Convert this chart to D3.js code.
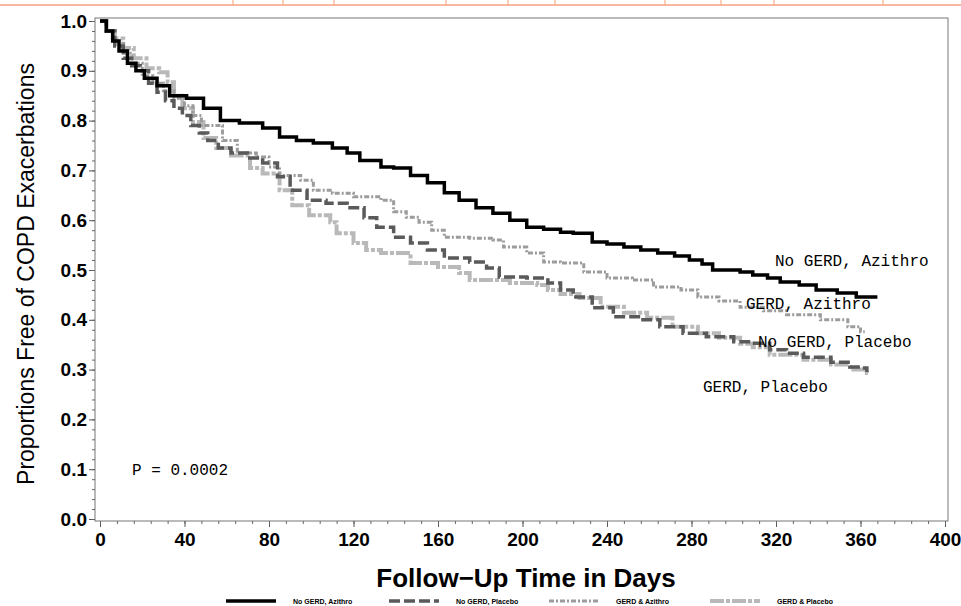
<!DOCTYPE html>
<html>
<head>
<meta charset="utf-8">
<script src="https://cdn.jsdelivr.net/npm/d3@7"></script>
<style>
  body { margin: 0; background: #fff; }
  svg { display: block; }
</style>
</head>
<body>
<div id="chart"></div>
<script>
// Kaplan-Meier curves, values (day, proportion free)
var noGerdAziDays = [0,3,6,9,13,17,21,27,33,41,49,57,66,77,85,93,101,110,117,123,133,139,147,155,163,170,178,186,194,202,210,218,224,233,240,248,256,264,272,279,285,290,303,309,316,322,331,339,349,358,368]
var noGerdAziVals = [1.0,0.98,0.96,0.94,0.915,0.90,0.885,0.87,0.85,0.845,0.825,0.80,0.795,0.785,0.767,0.76,0.755,0.745,0.735,0.72,0.707,0.705,0.69,0.675,0.655,0.64,0.625,0.614,0.60,0.586,0.582,0.576,0.574,0.556,0.552,0.546,0.54,0.534,0.528,0.52,0.512,0.50,0.496,0.49,0.484,0.476,0.47,0.46,0.454,0.446,0.446]

var noGerdPlaDays = [0,3,7,11,15,19,23,27,31,35,39,43,47,51,56,62,70,77,84,90,98,107,117,125,131,139,147,155,163,175,183,189,202,212,218,224,233,243,256,265,276,287,300,309,317,325,333,346,355,361,363]
var noGerdPlaVals = [1.0,0.98,0.95,0.925,0.91,0.90,0.875,0.857,0.84,0.825,0.81,0.79,0.775,0.76,0.745,0.735,0.725,0.715,0.687,0.66,0.64,0.634,0.625,0.605,0.586,0.566,0.554,0.54,0.524,0.516,0.504,0.486,0.484,0.474,0.46,0.446,0.424,0.406,0.40,0.386,0.373,0.366,0.356,0.353,0.34,0.333,0.325,0.315,0.305,0.303,0.295]

var gerdAziDays = [0,3,7,11,15,20,25,30,35,40,44,48,58,65,74,80,85,95,101,110,120,133,139,145,151,157,163,175,186,191,202,210,218,229,240,252,262,275,283,293,303,314,325,341,354,360,362]
var gerdAziVals = [1.0,0.98,0.955,0.935,0.915,0.89,0.875,0.86,0.845,0.83,0.81,0.79,0.76,0.735,0.727,0.707,0.69,0.68,0.66,0.654,0.647,0.64,0.617,0.606,0.596,0.58,0.566,0.564,0.56,0.546,0.534,0.516,0.514,0.496,0.484,0.48,0.466,0.46,0.446,0.438,0.425,0.418,0.41,0.40,0.386,0.376,0.376]

var gerdPlaDays = [0,3,7,11,16,22,28,32,35,39,44,49,55,62,71,77,85,91,99,109,112,120,126,133,147,160,170,175,189,194,207,212,218,227,237,248,259,271,283,293,303,309,317,333,346,355,363,364]
var gerdPlaVals = [1.0,0.98,0.965,0.946,0.925,0.905,0.897,0.877,0.85,0.825,0.797,0.765,0.745,0.73,0.705,0.694,0.66,0.63,0.61,0.596,0.574,0.554,0.54,0.534,0.514,0.506,0.494,0.48,0.48,0.474,0.47,0.46,0.452,0.444,0.426,0.414,0.404,0.386,0.373,0.364,0.352,0.345,0.33,0.32,0.31,0.30,0.293,0.293]

var xTicks = [0,40,80,120,160,200,240,280,320,360,400]
var yTicks = [0.0,0.1,0.2,0.3,0.4,0.5,0.6,0.7,0.8,0.9,1.0]
var legendNames = ["No GERD, Azithro", "No GERD, Placebo", "GERD & Azithro", "GERD & Placebo"]
var curveLabels = ["No GERD, Azithro", "No GERD, Placebo", "GERD, Azithro", "GERD, Placebo"]

var width = 961, height = 606

var svg = d3.select("#chart").append("svg")
  .attr("width", width)
  .attr("height", height)

// scales
var x = d3.scaleLinear().domain([0, 400]).range([100, 945])
var y = d3.scaleLinear().domain([0, 1]).range([519, 21])

// the orange rule cut off at the top of the page
svg.append("line")
  .attr("x1", 0).attr("x2", 961).attr("y1", 5).attr("y2", 5)
  .attr("stroke", "#f4a07a").attr("stroke-width", 1.5)
;[233, 283, 334, 446, 508, 555, 665, 721, 774, 883].forEach(function(px) {
  svg.append("line").attr("x1", px).attr("x2", px).attr("y1", 0).attr("y2", 5)
    .attr("stroke", "#f4a07a").attr("stroke-width", 1)
})

// plot frame
svg.append("rect")
  .attr("x", 95).attr("y", 18).attr("width", 853).attr("height", 503)
  .attr("fill", "none").attr("stroke", "#777").attr("stroke-width", 1)

// y axis
var yAxis = svg.append("g").attr("transform", "translate(95,0)")
  .call(d3.axisLeft(y).tickValues(yTicks).tickFormat(d3.format(".1f")).tickSize(6).tickSizeOuter(0))
yAxis.select(".domain").remove()
yAxis.selectAll(".tick line").attr("stroke", "#555")
yAxis.selectAll("text")
  .attr("x", -8)
  .style("font-family", "'Liberation Sans', Arial, sans-serif")
  .style("font-weight", "bold").style("font-size", "19px").attr("fill", "#000")
svg.append("g").attr("transform", "translate(95,0)")
  .call(d3.axisLeft(y).tickValues(d3.range(0, 1.001, 0.02)).tickFormat("").tickSize(3).tickSizeOuter(0))
  .call(g => g.select(".domain").remove())
  .selectAll("line").attr("stroke", "#666")

// x axis
var xAxis = svg.append("g").attr("transform", "translate(0,521)")
  .call(d3.axisBottom(x).tickValues(xTicks).tickSize(6).tickSizeOuter(0))
xAxis.select(".domain").remove()
xAxis.selectAll(".tick line").attr("stroke", "#555")
xAxis.selectAll("text")
  .attr("y", 12)
  .style("font-family", "'Liberation Sans', Arial, sans-serif")
  .style("font-weight", "bold").style("font-size", "19px").attr("fill", "#000")
svg.append("g").attr("transform", "translate(0,521)")
  .call(d3.axisBottom(x).tickValues(d3.range(0, 401, 8)).tickFormat("").tickSize(3).tickSizeOuter(0))
  .call(g => g.select(".domain").remove())
  .selectAll("line").attr("stroke", "#666")

// axis titles
svg.append("text")
  .attr("transform", "translate(34,274) rotate(-90)")
  .attr("text-anchor", "middle")
  .style("font-family", "'Liberation Sans', Arial, sans-serif")
  .style("font-size", "23px")
  .text("Proportions Free of COPD Exacerbations")

svg.append("text")
  .attr("x", 526).attr("y", 587)
  .attr("text-anchor", "middle")
  .style("font-family", "'Liberation Sans', Arial, sans-serif")
  .style("font-weight", "bold").style("font-size", "26px")
  .text("Follow\u2212Up Time in Days")

// curves
var series = [
  { days: noGerdAziDays, vals: noGerdAziVals, color: "#000000", dash: null,        w: 3.5 },
  { days: noGerdPlaDays, vals: noGerdPlaVals, color: "#5a5a5a", dash: "11,4",      w: 3.5 },
  { days: gerdAziDays,   vals: gerdAziVals,   color: "#9c9c9c", dash: "5,2,2,2",   w: 3 },
  { days: gerdPlaDays,   vals: gerdPlaVals,   color: "#b9b9b9", dash: "14,2,4,2",  w: 4 }
]

var line = d3.line()
  .x(d => x(d[0]))
  .y(d => y(d[1]))
  .curve(d3.curveStepAfter)

// lighter ones underneath the darker ones
;[3, 2, 1, 0].forEach(function(i) {
  var s = series[i]
  svg.append("path")
    .datum(d3.zip(s.days, s.vals))
    .attr("d", line)
    .attr("fill", "none")
    .attr("stroke", s.color)
    .attr("stroke-width", s.w)
    .attr("stroke-dasharray", s.dash)
})

// curve labels
var labelPos = [[775, 266], [758, 347], [746, 309], [703, 392]]
svg.selectAll(".curveLabel")
  .data(curveLabels)
  .enter()
  .append("text")
    .attr("class", "curveLabel")
    .attr("x", (d, i) => labelPos[i][0])
    .attr("y", (d, i) => labelPos[i][1])
    .style("font-family", "'Liberation Mono', 'Courier New', monospace")
    .style("font-size", "16px")
    .text(d => d)

svg.append("text")
  .attr("x", 132).attr("y", 475)
  .style("font-family", "'Liberation Mono', 'Courier New', monospace")
  .style("font-size", "16px")
  .text("P = 0.0002")

// legend
var legX = [226, 389, 549, 710]
var legend = svg.selectAll(".leg")
  .data(legendNames)
  .enter()
  .append("g")
    .attr("class", "leg")
    .attr("transform", (d, i) => "translate(" + legX[i] + ",601)")
legend.append("line")
  .attr("x1", 0).attr("x2", 50).attr("y1", 0).attr("y2", 0)
  .attr("stroke", (d, i) => series[i].color)
  .attr("stroke-width", (d, i) => series[i].w)
  .attr("stroke-dasharray", (d, i) => series[i].dash)
legend.append("text")
  .attr("x", 67).attr("y", 3)
  .style("font-family", "'Liberation Sans', Arial, sans-serif")
  .style("font-weight", "bold").style("font-size", "7px")
  .text(d => d)
</script>
</body>
</html>
